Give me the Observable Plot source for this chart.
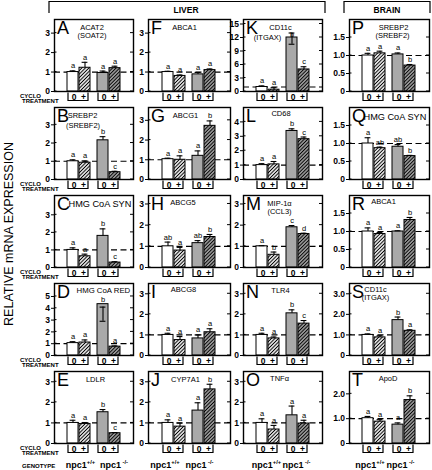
<!DOCTYPE html>
<html>
<head>
<meta charset="utf-8">
<script src="https://cdn.jsdelivr.net/npm/d3@7"></script>
<script src="https://cdn.jsdelivr.net/npm/@observablehq/plot@0.6"></script>
<style>
  html, body { margin: 0; padding: 0; background: #fff; }
  #fig { position: relative; width: 432px; height: 470px; overflow: hidden; font-family: "Liberation Sans", Arial, sans-serif; }
</style>
</head>
<body>
<svg width="0" height="0" style="position:absolute">
  <defs>
    <pattern id="hatchW" patternUnits="userSpaceOnUse" width="2.5" height="2.5" patternTransform="rotate(45)">
      <rect width="2.5" height="2.5" fill="#ffffff"/>
      <line x1="1.25" y1="0" x2="1.25" y2="2.5" stroke="#000" stroke-width="1.05"/>
    </pattern>
    <pattern id="hatchG" patternUnits="userSpaceOnUse" width="2.5" height="2.5" patternTransform="rotate(45)">
      <rect width="2.5" height="2.5" fill="#a9a9a9"/>
      <line x1="1.25" y1="0" x2="1.25" y2="2.5" stroke="#000" stroke-width="1.05"/>
    </pattern>
  </defs>
</svg>
<div id="fig"></div>
<script>
// ---------------- DATA ----------------
const panelIds = ["A","B","C","D","E","F","G","H","I","J","K","L","M","N","O","P","Q","R","S","T"];
const geneLabels = [
  ["ACAT2","(SOAT2)"], ["SREBP2","(SREBF2)"], ["HMG CoA SYN"], ["HMG CoA RED"], ["LDLR"],
  ["ABCA1"], ["ABCG1"], ["ABCG5"], ["ABCG8"], ["CYP7A1"],
  ["CD11c","(ITGAX)"], ["CD68"], ["MIP-1\u03b1","(CCL3)"], ["TLR4"], ["TNF\u03b1"],
  ["SREBP2","(SREBF2)"], ["HMG CoA SYN"], ["ABCA1"], ["CD11c","(ITGAX)"], ["ApoD"]
];
const barKeys = ["WT0","WT+","KO0","KO+"];
const treatmentLabels = ["0","+","0","+"];
const genotypeLabels = [["npc1","+/+"],["npc1"," -/-"]];
const tissueLabels = ["LIVER","BRAIN"];
const yAxisTitle = "RELATIVE mRNA EXPRESSION";

const values = [
  [1.00, 1.22, 0.95, 1.20], // A
  [1.00, 0.92, 2.15, 0.40], // B
  [1.00, 0.64, 1.80, 0.28], // C
  [1.05, 1.10, 4.35, 0.75], // D
  [1.00, 0.95, 1.52, 0.50], // E
  [1.00, 0.80, 0.88, 1.10], // F
  [1.03, 1.00, 1.20, 2.72], // G
  [1.00, 0.80, 1.15, 1.44], // H
  [1.00, 0.75, 0.83, 1.13], // I
  [1.00, 0.82, 1.60, 2.63], // J
  [1.00, 0.40, 12.0, 4.90], // K
  [1.00, 1.05, 3.37, 2.80], // L
  [1.00, 0.60, 1.90, 1.58], // M
  [1.00, 0.83, 2.05, 1.55], // N
  [1.00, 0.68, 1.37, 0.97], // O
  [1.00, 1.06, 1.03, 0.72], // P
  [1.00, 0.87, 0.91, 0.65], // Q
  [1.00, 0.93, 1.00, 1.32], // R
  [1.00, 0.88, 1.72, 1.20], // S
  [1.02, 0.88, 0.76, 1.75]  // T
];
const semUp = [
  [0.06, 0.28, 0.10, 0.10],
  [0.08, 0.10, 0.20, 0.05],
  [0.12, 0.12, 0.40, 0.05],
  [0.12, 0.22, -0.25, 0.06],
  [0.13, 0.07, 0.13, 0.03],
  [0.04, 0.05, 0.10, 0.06],
  [0.05, 0.20, 0.25, 0.25],
  [0.20, 0.15, 0.12, 0.12],
  [0.08, 0.17, 0.17, 0.17],
  [0.15, 0.17, 0.38, 0.25],
  [0.25, 0.45, 1.00, 0.60],
  [0.10, 0.20, 0.15, 0.15],
  [0.03, 0.13, 0.08, 0.04],
  [0.08, 0.07, 0.17, 0.15],
  [0.20, 0.20, 0.45, 0.16],
  [0.06, 0.06, 0.04, 0.03],
  [0.16, 0.03, 0.06, 0.02],
  [0.10, 0.04, 0.02, 0.07],
  [0.05, 0.08, 0.15, 0.05],
  [0.07, 0.08, 0.07, 0.17]
];
// lower whisker end drawn over the bar (only where visible in the figure)
const whiskerLow = [
  [null,null,null,null],[null,null,null,null],[null,null,null,null],[null,null,2.9,null],[null,null,null,null],
  [null,null,null,null],[null,null,null,null],[null,null,null,null],[null,null,null,null],[null,null,null,null],
  [null,null,10.5,null],[null,null,null,null],[null,null,null,null],[null,null,null,null],[null,null,null,null],
  [null,null,null,null],[null,null,null,null],[null,null,null,null],[null,null,null,null],[null,null,null,null]
];
const sigLetters = [
  ["a","a","a","a"],["a","a","b","c"],["a","a","b","c"],["a","a","b","a"],["a","a","b","c"],
  ["a","a","a","a"],["a","a","a","b"],["ab","a","ab","b"],["a","a","a","a"],["a","a","a","b"],
  ["a","a","b","c"],["a","a","b","c"],["a","b","c","d"],["a","a","b","c"],["a","a","a","a"],
  ["a","a","a","b"],["a","ab","ab","b"],["a","a","a","b"],["a","a","b","a"],["a","a","a","b"]
];
const yMax = [3.7, 3.95, 4.1, 6.1, 3.5,  3.7, 3.65, 3.4, 3.5, 3.5,  16, 5.0, 3.4, 3.5, 3.5,  2.0, 2.0, 2.0, 3.5, 2.9];
const yTicks = [
  [0,1,2,3],[0,1,2,3],[0,1,2,3],[0,1,2,3,4,5],[0,1,2,3],
  [0,1,2,3],[0,1,2,3],[0,1,2,3],[0,1,2,3],[0,1,2,3],
  [0,3,6,9,12,15],[0,1,2,3,4],[0,1,2,3],[0,1,2,3],[0,1,2,3],
  [0,0.5,1,1.5],[0,0.5,1,1.5],[0,0.5,1,1.5],[0,1,2,3],[0,1,2]
];

// ---------------- LAYOUT / STYLE ----------------
const colLeft = [54, 148, 243, 349], colRight = [133, 230, 322, 429];
const rowTop0 = 19, rowStep = 88, frameH = 72;
const groupShift = 3;
const barFills = ["#ffffff", "url(#hatchW)", "#a9a9a9", "url(#hatchG)"];
const geneStart = [false,false,true,true,false, false,false,false,false,false, false,false,false,false,false, false,true,false,false,false];
const geneDx = [[-2,-2],[-11.5,-11],[14],[22],[1.5], [-5],[-4],[-6.5],[-6],[-4], [-2.5,-15.5],[-2],[-3.5,-3.5],[-2.5],[-3.5], [4,3],[14],[-6],[-14,-14],[-1.5]];
const geneBase = [[10,18.5],[10,20.5],[11.5],[9],[10.5], [10],[10],[9.5],[8],[10], [10,20],[8],[10,18.5],[9.5],[9.5], [10,18.5],[12.5],[8.5],[8,16],[9.5]];
const geneSize = [7.5,7.5,9.2,7.8,7.5, 7.5,7.5,7.5,7.5,7.5, 7.5,7.5,7.5,7.5,7.5, 7.5,9.2,7.5,7.5,7.5];
// vertical offset of the significance letter (px); K's "b" sits on its cap
const letterDy = (i, j) => (i === 10 && j === 2) ? 3.5 : -2.5;
const genoOffset = [[2, 5.5], [-8.5, -4], [-1, -1], [-3.5, -3]];
const font = "'Liberation Sans', Arial, sans-serif";

const fig = document.getElementById("fig");

panelIds.forEach((pid, i) => {
  const col = Math.floor(i / 5), row = i % 5;
  const fw = colRight[col] - colLeft[col];
  const top = rowTop0 + rowStep * row;
  const ml = 26, mr = 4, mt = 2, mb = row === 4 ? 32 : 14;
  const rows = barKeys.map((k, j) => ({
    key: k, j, treat: treatmentLabels[j], v: values[i][j],
    up: values[i][j] + semUp[i][j], lo: whiskerLow[i][j], letter: sigLetters[i][j]
  }));
  const marks = [Plot.ruleY([1], {stroke: "#000", strokeWidth: 1.2, strokeDasharray: "6,3.5"})];
  rows.forEach(r => {
    const dx = r.j < 2 ? -groupShift : groupShift;
    const d = [r];
    marks.push(Plot.barY(d, {x: "key", y: "v", fill: barFills[r.j], stroke: "#000", strokeWidth: 1, dx}));
    marks.push(Plot.ruleX(d, {x: "key", y1: q => q.lo ?? q.v, y2: "up", stroke: "#000", strokeWidth: 1.1, dx}));
    marks.push(Plot.tickY(d, {x: "key", y: "up", stroke: "#000", strokeWidth: 1.1, insetLeft: 2.6, insetRight: 2.6, dx}));
    if (r.lo != null) marks.push(Plot.tickY(d, {x: "key", y: "lo", stroke: "#000", strokeWidth: 1.1, insetLeft: 2.6, insetRight: 2.6, dx}));
    marks.push(Plot.text(d, {x: "key", y: q => Math.max(q.v, q.up), text: "letter", dy: letterDy(i, r.j), lineAnchor: "bottom", fontSize: 7.5, fontWeight: "normal", dx}));
    marks.push(Plot.text(d, {x: "key", text: "treat", frameAnchor: "bottom", dy: 8.5, lineAnchor: "bottom", fontSize: 8.5, fontWeight: "bold", dx: dx + (r.j % 2 === 0 ? 1 : -1.5)}));
  });
  marks.push(Plot.frame({stroke: "#000", strokeWidth: 1.4}));
  marks.push(Plot.text([pid], {text: d => d, frameAnchor: "top-left", dx: 2.5, dy: 1.5, lineAnchor: "top", textAnchor: "start", fontSize: 18, fontWeight: "normal"}));
  geneLabels[i].forEach((line, k) => {
    marks.push(Plot.text([line], {
      text: d => d,
      frameAnchor: geneStart[i] ? "top-left" : "top",
      textAnchor: geneStart[i] ? "start" : "middle",
      dx: geneDx[i][k], dy: geneBase[i][k], lineAnchor: "bottom",
      fontSize: geneSize[i], fontWeight: "normal"
    }));
  });

  const fmt = col === 3 ? (d => d === 0 ? "0" : d.toFixed(1)) : (d => String(d));
  const svg = Plot.plot({
    width: fw + ml + mr, height: frameH + mt + mb,
    marginLeft: ml, marginRight: mr, marginTop: mt, marginBottom: mb,
    style: {fontFamily: font, fontSize: "8.5px", fontWeight: "bold", background: "none", overflow: "visible", position: "absolute", left: (colLeft[col] - ml) + "px", top: (top - mt) + "px"},
    x: {domain: barKeys, paddingInner: 0.08, paddingOuter: 1.2, axis: null},
    y: {domain: [0, yMax[i]], ticks: yTicks[i], tickFormat: fmt, tickSize: 3, tickPadding: 1.5, label: null},
    marks
  });
  svg.style.position = "absolute";
  svg.style.left = (colLeft[col] - ml) + "px";
  svg.style.top = (top - mt) + "px";
  svg.style.maxWidth = "none";
  fig.appendChild(svg);

  const xs = svg.scale("x"), ys = svg.scale("y");
  const sel = d3.select(svg);
  const bw = xs.bandwidth;
  yTicks[i].forEach(t => {
    const y = ys.apply(t);
    sel.append("line").attr("x1", ml).attr("x2", ml + 2.5).attr("y1", y).attr("y2", y).attr("stroke", "#000").attr("stroke-width", 1);
    sel.append("line").attr("x1", ml + fw - 3).attr("x2", ml + fw).attr("y1", y).attr("y2", y).attr("stroke", "#000").attr("stroke-width", 1);
  });
  const yb = mt + frameH;
  [[0, 1, -groupShift], [2, 3, groupShift]].forEach(([a, b, dx], g) => {
    const x0 = xs.apply(barKeys[a]) + dx + 1, x1 = xs.apply(barKeys[b]) + bw + dx - 2;
    sel.append("path").attr("d", `M${x0},${yb + 1.5}V${yb + 9.5}H${x1}V${yb + 1.5}`)
      .attr("fill", "none").attr("stroke", "#000").attr("stroke-width", 1.2);
    if (row === 4) {
      const cx = (xs.apply(barKeys[a]) + xs.apply(barKeys[b]) + bw) / 2 + dx + genoOffset[col][g];
      const t = sel.append("text").attr("x", cx).attr("y", yb + 25).attr("text-anchor", "middle")
        .attr("font-size", 9).attr("font-weight", "bold").attr("font-family", font);
      t.append("tspan").text(genotypeLabels[g][0]);
      t.append("tspan").attr("dy", -4).attr("font-size", 5.8).text(genotypeLabels[g][1]);
    }
  });
});

// ---------------- OVERLAY TEXT ----------------
const ov = d3.select(fig).append("svg").attr("width", 432).attr("height", 470)
  .style("position", "absolute").style("left", "0px").style("top", "0px")
  .attr("font-family", font);
ov.append("text").attr("transform", "translate(13,234) rotate(-90)").attr("text-anchor", "middle")
  .attr("font-size", 12.5).text(yAxisTitle);
ov.append("path").attr("d", "M49,13V1.5H325V13").attr("fill", "none").attr("stroke", "#000").attr("stroke-width", 1.2);
ov.append("path").attr("d", "M344,13V1.5H430V13").attr("fill", "none").attr("stroke", "#000").attr("stroke-width", 1.2);
ov.append("text").attr("x", 186).attr("y", 13.3).attr("text-anchor", "middle").attr("font-size", 8.5).attr("font-weight", "bold").text(tissueLabels[0]);
ov.append("text").attr("x", 387).attr("y", 13.3).attr("text-anchor", "middle").attr("font-size", 8.5).attr("font-weight", "bold").text(tissueLabels[1]);
for (let r = 0; r < 5; r++) {
  const yb = rowTop0 + rowStep * r + frameH;
  ov.append("text").attr("x", 20).attr("y", yb + 6.8).attr("font-size", 6).attr("font-weight", "bold").text("CYCLO");
  ov.append("text").attr("x", 22).attr("y", yb + 12.3).attr("font-size", 6).attr("font-weight", "bold").text("TREATMENT");
}
ov.append("text").attr("x", 22).attr("y", 468).attr("font-size", 6).attr("font-weight", "bold").text("GENOTYPE");
</script>
</body>
</html>
